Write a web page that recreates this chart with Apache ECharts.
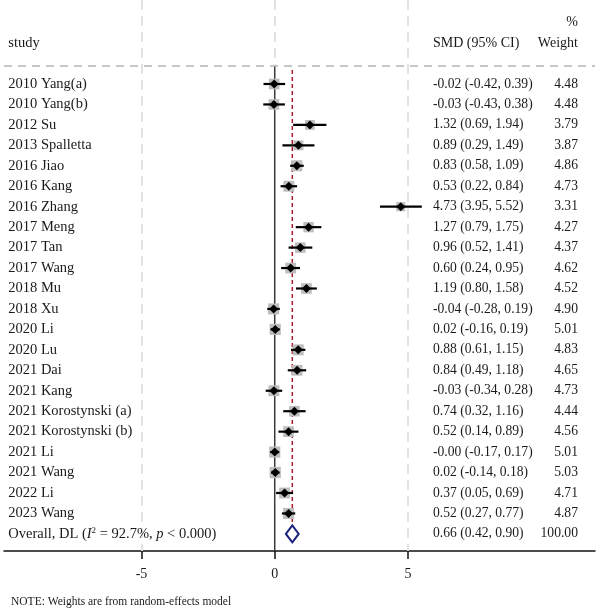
<!DOCTYPE html>
<html>
<head>
<meta charset="utf-8">
<script src="https://cdn.jsdelivr.net/npm/echarts@6/dist/echarts.min.js"></script>
<style>
  html, body { margin: 0; padding: 0; background: #fff; }
  #chart { width: 600px; height: 611px; }
</style>
</head>
<body>
<div id="chart"></div>
<script>
// study data
const studies = [
  '2010 Yang(a)', '2010 Yang(b)', '2012 Su', '2013 Spalletta', '2016 Jiao', '2016 Kang',
  '2016 Zhang', '2017 Meng', '2017 Tan', '2017 Wang', '2018 Mu', '2018 Xu', '2020 Li',
  '2020 Lu', '2021 Dai', '2021 Kang', '2021 Korostynski (a)', '2021 Korostynski (b)',
  '2021 Li', '2021 Wang', '2022 Li', '2023 Wang'
];
const smd     = [-0.02, -0.03, 1.32, 0.89, 0.83, 0.53, 4.73, 1.27, 0.96, 0.60, 1.19, -0.04, 0.02, 0.88, 0.84, -0.03, 0.74, 0.52, -0, 0.02, 0.37, 0.52];
const ciLow   = [-0.42, -0.43, 0.69, 0.29, 0.58, 0.22, 3.95, 0.79, 0.52, 0.24, 0.80, -0.28, -0.16, 0.61, 0.49, -0.34, 0.32, 0.14, -0.17, -0.14, 0.05, 0.27];
const ciHigh  = [0.39, 0.38, 1.94, 1.49, 1.09, 0.84, 5.52, 1.75, 1.41, 0.95, 1.58, 0.19, 0.19, 1.15, 1.18, 0.28, 1.16, 0.89, 0.17, 0.18, 0.69, 0.77];
const weights = [4.48, 4.48, 3.79, 3.87, 4.86, 4.73, 3.31, 4.27, 4.37, 4.62, 4.52, 4.90, 5.01, 4.83, 4.65, 4.73, 4.44, 4.56, 5.01, 5.03, 4.71, 4.87];

// pooled estimate (DerSimonian-Laird)
const overallSmd = [0.66];
const overallCi = [0.42, 0.90];
const overallWeight = [100.00];
const heterogeneity = ['92.7%', '0.000'];

const xTicks = [-5, 0, 5];

// layout
const FONT = '"Liberation Serif", "DejaVu Serif", serif';
const TXT = '#1a1a1a';
const colStudy = -10.0;   // x (axis units) where the study column starts
const colCi = 5.94;       // left edge of the SMD column
const colWeight = 11.38;  // right edge of the weight column
const headerLine = -0.88; // row position of the dashed separator
const yMin = -4.107, yMax = 22.836;

const fmt = v => (v < 0 || Object.is(v, -0) ? '-' : '') + Math.abs(v).toFixed(2);

const nRows = studies.length;
const overallRow = nRows;

// text cells: [x, row, text, align, fontSize, rich?]
const cells = [];
cells.push([colWeight, -3, '%', 'right', 14]);
cells.push([colStudy, -2, 'study', 'left', 14.5]);
cells.push([colCi, -2, 'SMD (95% CI)', 'left', 14]);
cells.push([colWeight, -2, 'Weight', 'right', 14]);
studies.forEach((s, i) => {
  cells.push([colStudy, i, s, 'left', 14.5]);
  cells.push([colCi, i, `${fmt(smd[i])} (${fmt(ciLow[i])}, ${fmt(ciHigh[i])})`, 'left', 13.6]);
  cells.push([colWeight, i, weights[i].toFixed(2), 'right', 13.6]);
});
cells.push([colStudy, overallRow,
  `{n|Overall, DL (}{i|I}{s|2}{n| = ${heterogeneity[0]}, }{i|p}{n| < ${heterogeneity[1]})}`, 'left', 14.5, true]);
cells.push([colCi, overallRow,
  `${fmt(overallSmd[0])} (${fmt(overallCi[0])}, ${fmt(overallCi[1])})`, 'left', 13.6]);
cells.push([colWeight, overallRow, overallWeight[0].toFixed(2), 'right', 13.6]);

const richStyles = {
  n: { fontSize: 14.5, fontFamily: FONT, fill: TXT },
  i: { fontSize: 14.5, fontFamily: FONT, fontStyle: 'italic', fill: TXT },
  s: { fontSize: 9, fontFamily: FONT, fill: TXT, verticalAlign: 'top' }
};

const studyData = studies.map((s, i) => [i, smd[i], ciLow[i], ciHigh[i], weights[i]]);

const gridStyle = { color: '#e2e2e2', type: [10, 6], width: 2 };

const chart = echarts.init(document.getElementById('chart'));

chart.setOption({
  animation: false,
  title: {
    text: 'NOTE: Weights are from random-effects model',
    left: 6, top: 591,
    textStyle: { fontFamily: FONT, fontSize: 11.5, fontWeight: 'normal', color: TXT }
  },
  grid: { left: 4, right: 5, top: 0, bottom: 60 },
  xAxis: {
    type: 'value',
    min: -10.16,
    max: 12.02,
    axisLine: { show: true, onZero: false, lineStyle: { color: '#111', width: 1.5 } },
    axisTick: { show: true, customValues: xTicks, length: 8, lineStyle: { color: '#111', width: 1.5 } },
    axisLabel: { customValues: xTicks, margin: 16, fontFamily: FONT, fontSize: 14, color: TXT },
    splitLine: { show: false }
  },
  yAxis: {
    type: 'value',
    inverse: true,
    min: yMin,
    max: yMax,
    show: false
  },
  series: [
    {
      // light dashed grid at the ticks (the null line covers 0 below the header) + header separator
      type: 'line',
      data: [],
      silent: true,
      z: 1,
      markLine: {
        silent: true,
        symbol: 'none',
        label: { show: false },
        lineStyle: gridStyle,
        data: [
          ...xTicks.map(t => t === 0
            ? [{ coord: [t, yMin] }, { coord: [t, headerLine] }]
            : { xAxis: t }),
          { yAxis: headerLine, lineStyle: { color: '#b4b4b4', type: [8, 6], width: 1.5 } }
        ]
      }
    },
    {
      // null line
      type: 'line',
      data: [[0, headerLine], [0, yMax]],
      symbol: 'none',
      silent: true,
      z: 3,
      lineStyle: { color: '#3a3a3a', width: 1.5 }
    },
    {
      // overall effect line
      type: 'line',
      data: [[overallSmd[0], -0.68], [overallSmd[0], overallRow + 0.35]],
      symbol: 'none',
      silent: true,
      z: 3,
      lineStyle: { color: '#a8182a', width: 1.5, type: [4, 3] }
    },
    {
      // study boxes, CIs and point estimates
      type: 'custom',
      data: studyData,
      z: 4,
      renderItem: (params, api) => {
        const row = api.value(0);
        const p = api.coord([api.value(1), row]);
        const lo = api.coord([api.value(2), row])[0];
        const hi = api.coord([api.value(3), row])[0];
        const box = 10.6 * Math.sqrt(api.value(4) / 4.48);
        const d = 4.5;
        return {
          type: 'group',
          children: [
            { type: 'rect', shape: { x: p[0] - box / 2, y: p[1] - box / 2, width: box, height: box },
              style: { fill: '#bdbdbd' } },
            { type: 'line', shape: { x1: lo, y1: p[1], x2: hi, y2: p[1] },
              style: { stroke: '#000', lineWidth: 2.2 } },
            { type: 'polygon', shape: { points: [[p[0] - d, p[1]], [p[0], p[1] - d], [p[0] + d, p[1]], [p[0], p[1] + d]] },
              style: { fill: '#000' } }
          ]
        };
      }
    },
    {
      // pooled diamond
      type: 'custom',
      data: [[overallRow, overallSmd[0], overallCi[0], overallCi[1]]],
      z: 5,
      renderItem: (params, api) => {
        const row = api.value(0);
        const p = api.coord([api.value(1), row]);
        const lo = api.coord([api.value(2), row])[0];
        const hi = api.coord([api.value(3), row])[0];
        const h = 8.5;
        return {
          type: 'polygon',
          shape: { points: [[lo, p[1]], [p[0], p[1] - h], [hi, p[1]], [p[0], p[1] + h]] },
          style: { fill: '#fff', stroke: '#1b237e', lineWidth: 2 }
        };
      }
    },
    {
      // table text
      type: 'custom',
      data: cells.map(c => [c[0], c[1]]),
      silent: true,
      z: 6,
      renderItem: (params, api) => {
        const c = cells[params.dataIndex];
        const p = api.coord([c[0], c[1]]);
        const style = {
          text: c[2],
          fill: TXT,
          fontFamily: FONT,
          fontSize: c[4],
          align: c[3],
          verticalAlign: 'middle'
        };
        if (c[5]) style.rich = richStyles;
        return { type: 'text', x: p[0], y: p[1], style };
      }
    }
  ]
});
</script>
</body>
</html>
